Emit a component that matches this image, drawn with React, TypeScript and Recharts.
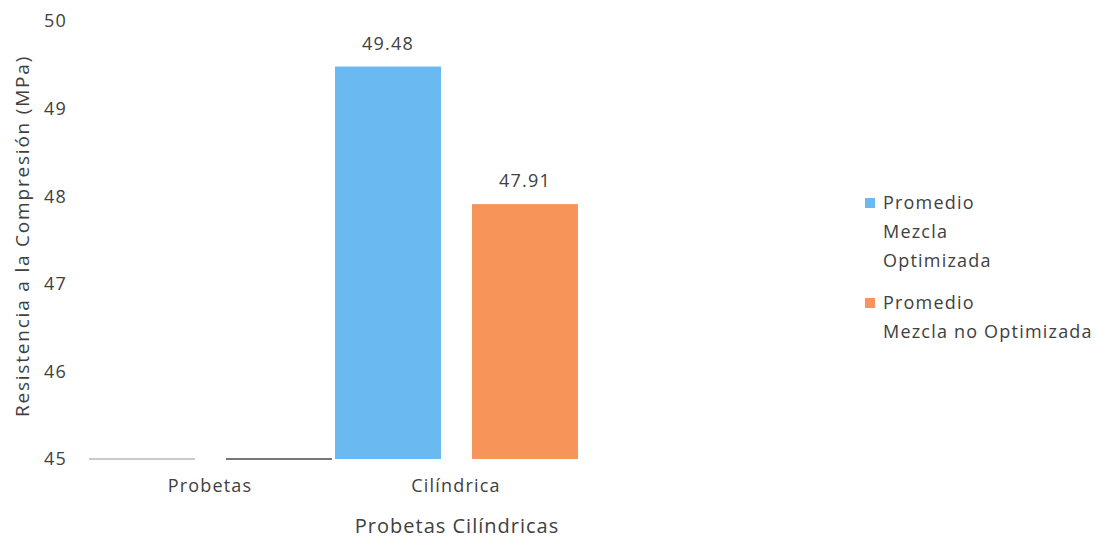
import React from "react";
import { BarChart, Bar, XAxis, YAxis, LabelList } from "recharts";

const categories = ["Probetas", "Cilíndrica"];
const optimizada = [45, 49.48];
const noOptimizada = [45, 47.91];
const yTicks = [45, 46, 47, 48, 49, 50];

const seriesNames = ["Promedio\nMezcla\nOptimizada", "Promedio\nMezcla no Optimizada"];
const seriesColors = ["#6bb9f1", "#f7945a"];
// thin strokes drawn where a bar sits exactly on the axis minimum
const flatColors = ["#b8b8b8", "#4a4a4a"];

const data = categories.map((cat, i) => ({
  cat,
  opt: optimizada[i],
  noOpt: noOptimizada[i],
}));

const FONT = "'Open Sans', sans-serif";
const TEXT = "#404040";
const SPACING = 1.2;

const makeShape = (fill: string, flat: string) => (props: any) => {
  const { x, y, width, height } = props;
  if (!height || height < 1) {
    return <line x1={x} x2={x + width} y1={y} y2={y} stroke={flat} strokeWidth={1.5} />;
  }
  return <rect x={x} y={y} width={width} height={height} fill={fill} />;
};

const fmt = (v: any) => (Number(v) > 45 ? Number(v).toFixed(2) : "");

function SeriesLegend() {
  return (
    <div
      style={{
        position: "absolute",
        left: 865,
        top: 188,
        fontFamily: FONT,
        fontSize: 18,
        letterSpacing: SPACING,
        color: TEXT,
        lineHeight: "29px",
      }}
    >
      {seriesNames.map((name, i) => (
        <div key={i} style={{ display: "flex", alignItems: "flex-start", marginBottom: 13 }}>
          <span
            style={{
              display: "inline-block",
              width: 10,
              height: 10,
              background: seriesColors[i],
              marginTop: 10,
              marginRight: 8,
              flexShrink: 0,
            }}
          />
          <span style={{ whiteSpace: "pre-line" }}>{name}</span>
        </div>
      ))}
    </div>
  );
}

export default function App() {
  const tickStyle = { fill: TEXT, fontSize: 18, fontFamily: FONT, letterSpacing: SPACING };
  return (
    <div style={{ position: "absolute", left: 0, top: 0, width: 1099, height: 540, background: "#fff" }}>
      <BarChart
        width={1099}
        height={540}
        data={data}
        margin={{ top: 21, right: 520, bottom: 0, left: 0 }}
        barCategoryGap={1}
        barGap={31}
      >
        <YAxis
          domain={[45, 50]}
          ticks={yTicks}
          width={87}
          axisLine={false}
          tickLine={false}
          tickMargin={14}
          tick={tickStyle}
          label={{
            content: ({ viewBox }: any) => {
              const cx = viewBox.x + 22;
              const cy = viewBox.y + viewBox.height / 2 - 4;
              return (
                <text
                  x={cx}
                  y={cy}
                  transform={`rotate(-90 ${cx} ${cy})`}
                  textAnchor="middle"
                  dominantBaseline="central"
                  fill={TEXT}
                  fontSize={19}
                  fontFamily={FONT}
                  letterSpacing={1.8}
                >
                  Resistencia a la Compresión (MPa)
                </text>
              );
            },
          }}
        />
        <XAxis
          dataKey="cat"
          height={81}
          axisLine={false}
          tickLine={false}
          tickMargin={14}
          tick={tickStyle}
          label={{
            content: ({ viewBox }: any) => (
              <text
                x={viewBox.x + viewBox.width / 2 + 124}
                y={viewBox.y + 66}
                textAnchor="middle"
                dominantBaseline="central"
                fill={TEXT}
                fontSize={20}
                fontFamily={FONT}
                letterSpacing={1}
              >
                Probetas Cilíndricas
              </text>
            ),
          }}
        />
        <Bar
          dataKey="opt"
          name="Promedio Mezcla Optimizada"
          fill={seriesColors[0]}
          barSize={106}
          isAnimationActive={false}
          shape={makeShape(seriesColors[0], flatColors[0])}
        >
          <LabelList
            dataKey="opt"
            position="top"
            offset={17}
            formatter={fmt}
            fill={TEXT}
            fontSize={18}
            fontFamily={FONT}
            letterSpacing={SPACING}
          />
        </Bar>
        <Bar
          dataKey="noOpt"
          name="Promedio Mezcla no Optimizada"
          fill={seriesColors[1]}
          barSize={106}
          isAnimationActive={false}
          shape={makeShape(seriesColors[1], flatColors[1])}
        >
          <LabelList
            dataKey="noOpt"
            position="top"
            offset={17}
            formatter={fmt}
            fill={TEXT}
            fontSize={18}
            fontFamily={FONT}
            letterSpacing={SPACING}
          />
        </Bar>
      </BarChart>
      <SeriesLegend />
    </div>
  );
}
